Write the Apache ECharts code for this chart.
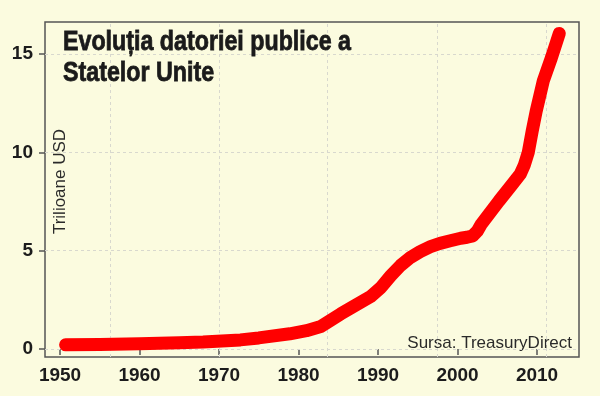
<!DOCTYPE html>
<html>
<head>
<meta charset="utf-8">
<script src="https://cdn.jsdelivr.net/npm/echarts@6/dist/echarts.min.js"></script>
<style>html,body{margin:0;padding:0;background:#fbfbdf;}#c{width:600px;height:396px;}</style>
</head>
<body>
<div id="c"></div>
<script>
// Data (year, trillions USD)
const years = [1950.7, 1955, 1960, 1965, 1968, 1972.7, 1975, 1978.9, 1981.0, 1982.8, 1984.0, 1985.3, 1986.6, 1989.1, 1990.35, 1991.6, 1992.85, 1994.1, 1995.3, 1996.6, 1997.8, 1999.1, 2000.4, 2001.2, 2001.9, 2002.5, 2003.0, 2005.2, 2006.7, 2007.9, 2008.4, 2008.9, 2009.4, 2009.9, 2010.8, 2011.8, 2012.8];
const debt  = [0.21, 0.22, 0.27, 0.31, 0.35, 0.46, 0.56, 0.77, 0.93, 1.14, 1.45, 1.78, 2.09, 2.67, 3.12, 3.72, 4.25, 4.66, 4.95, 5.2, 5.37, 5.5, 5.63, 5.68, 5.75, 6.0, 6.35, 7.52, 8.28, 8.9, 9.35, 10.0, 11.1, 12.1, 13.65, 14.8, 16.05];
const xTicks = [1950, 1960, 1970, 1980, 1990, 2000, 2010];
const yTicks = [0, 5, 10, 15];
const xGrid = [1956.29, 1970.0, 1983.58, 1997.42, 2011.13];
const titleLines = ['Evoluția datoriei publice a', 'Statelor Unite'];
const yName = 'Trilioane USD';
const source = 'Sursa: TreasuryDirect';

const chart = echarts.init(document.getElementById('c'), null, {renderer: 'canvas'});
const tickFont = {fontFamily: 'Liberation Sans, Arial, sans-serif', fontWeight: 'bold', fontSize: 19, color: '#1c1c1c'};
const dash = {color: '#d8d8ce', type: [3, 3], width: 1};
const titleStyle = (t) => ({text: t, font: 'bold 28px "Liberation Sans", Arial, sans-serif', fill: '#1a1a1a', stroke: '#1a1a1a', lineWidth: 0.8, verticalAlign: 'middle', textAlign: 'left'});

chart.setOption({
  backgroundColor: '#fbfbdf',
  animation: false,
  grid: {left: 45, top: 22, right: 21, bottom: 39, show: true, borderColor: '#555', borderWidth: 1.5, backgroundColor: 'transparent'},
  xAxis: {
    type: 'value', min: 1948.11, max: 2015.28,
    axisLine: {show: false},
    splitLine: {show: false},
    axisTick: {show: true, length: 6, lineStyle: {color: '#555', width: 1.5}, customValues: xTicks},
    axisLabel: Object.assign({margin: 9, customValues: xTicks, formatter: v => String(v)}, tickFont)
  },
  yAxis: {
    type: 'value', min: -0.41, max: 16.63,
    axisLine: {show: false},
    splitLine: {show: false},
    axisTick: {show: true, length: 6, lineStyle: {color: '#555', width: 1.5}, customValues: yTicks},
    axisLabel: Object.assign({margin: 12, customValues: yTicks, formatter: v => String(v)}, tickFont)
  },
  series: [
    {
      type: 'line', data: [], z: 1, silent: true,
      markLine: {
        z: 1, silent: true, symbol: 'none', label: {show: false},
        lineStyle: dash,
        data: xGrid.map(v => ({xAxis: v})).concat(yTicks.map(v => ({yAxis: v})))
      }
    },
    {
      type: 'line', z: 3,
      data: years.map((y, i) => [y, debt[i]]),
      showSymbol: false, symbol: 'none',
      lineStyle: {color: '#ff0000', width: 13, cap: 'round', join: 'round'}
    }
  ],
  graphic: [
    {type: 'text', x: 63, y: 42.5, scaleX: 0.83, z: 10, style: titleStyle(titleLines[0])},
    {type: 'text', x: 63, y: 73.5, scaleX: 0.83, z: 10, style: titleStyle(titleLines[1])},
    {type: 'text', x: 60, y: 181.5, rotation: Math.PI / 2, style: {text: yName, font: '17px "Liberation Sans", Arial, sans-serif', fill: '#2a2a2a', verticalAlign: 'middle', textAlign: 'center'}},
    {type: 'text', x: 572, y: 343.4, style: {text: source, font: '17px "Liberation Sans", Arial, sans-serif', fill: '#2a2a2a', verticalAlign: 'middle', textAlign: 'right'}}
  ]
});
</script>
</body>
</html>
